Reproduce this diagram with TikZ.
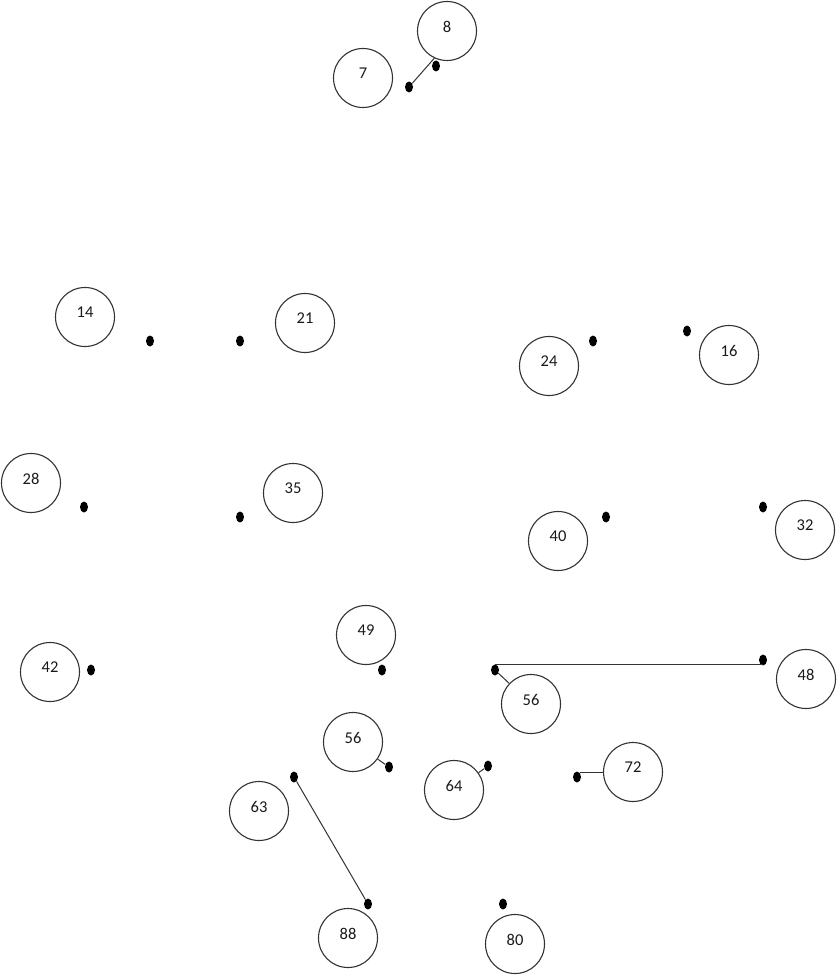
\documentclass[tikz,border=0pt]{standalone}
\usepackage{fontspec}
\setmainfont{Carlito}
\usetikzlibrary{shapes.geometric}
\tikzset{
  num/.style={circle, draw=black!80, line width=1.1pt, minimum size=59pt, inner sep=0pt,
    font=\fontsize{16.5}{19}\selectfont, text=black!90, text depth=9pt},
  dotm/.style={ellipse, fill=black, draw=none, minimum width=8pt, minimum height=11pt, inner sep=0pt},
  link/.style={draw=black!80, line width=1pt}
}
\begin{document}
\begin{tikzpicture}[x=1pt,y=-1pt]
\useasboundingbox (0,0) rectangle (839,976);
% circles
\node[num] (n8)  at (447,31)  {8};
\node[num] (n7)  at (363,78)  {7};
\node[num] (n14) at (85,317)  {14};
\node[num] (n21) at (305,323) {21};
\node[num] (n24) at (549,366) {24};
\node[num] (n16) at (729,355) {16};
\node[num] (n28) at (31,483)  {28};
\node[num] (n35) at (293,493) {35};
\node[num] (n40) at (558,541) {40};
\node[num] (n32) at (805,530) {32};
\node[num] (n49) at (366,635) {49};
\node[num] (n42) at (50,672)  {42};
\node[num] (n48) at (806,679) {48};
\node[num] (n56a) at (531,704) {56};
\node[num] (n56b) at (353,742) {56};
\node[num] (n64) at (454,790) {64};
\node[num] (n72) at (633,772) {72};
\node[num] (n63) at (259,811) {63};
\node[num] (n88) at (348,938) {88};
\node[num] (n80) at (515,944) {80};
% dots
\node[dotm] (d1)  at (409,87)  {};
\node[dotm] (d2)  at (436,66)  {};
\node[dotm] (d3)  at (150,341) {};
\node[dotm] (d4)  at (240,341) {};
\node[dotm] (d5)  at (593,341) {};
\node[dotm] (d6)  at (687,331) {};
\node[dotm] (d7)  at (84,507)  {};
\node[dotm] (d8)  at (240,517) {};
\node[dotm] (d9)  at (606,517) {};
\node[dotm] (d10) at (763,507) {};
\node[dotm] (d11) at (91,670)  {};
\node[dotm] (d12) at (382,670) {};
\node[dotm] (d13) at (495,670) {};
\node[dotm] (d14) at (763,660) {};
\node[dotm] (d15) at (389,767) {};
\node[dotm] (d16) at (488,766) {};
\node[dotm] (d17) at (577,777) {};
\node[dotm] (d18) at (294,777) {};
\node[dotm] (d19) at (368,904) {};
\node[dotm] (d20) at (503,904) {};
% connectors
\draw[link] (d1) -- (n8.245);
\draw[link] (d13.north) -- (d13.north -| d14);
\draw[link] (d13) -- (n56a);
\draw[link] (n56b) -- (d15);
\draw[link] (n64) -- (d16);
\draw[link] (d17.60) -- (d17.60 -| n72.west);
\draw[link] (d18) -- (d19);
\end{tikzpicture}
\end{document}
